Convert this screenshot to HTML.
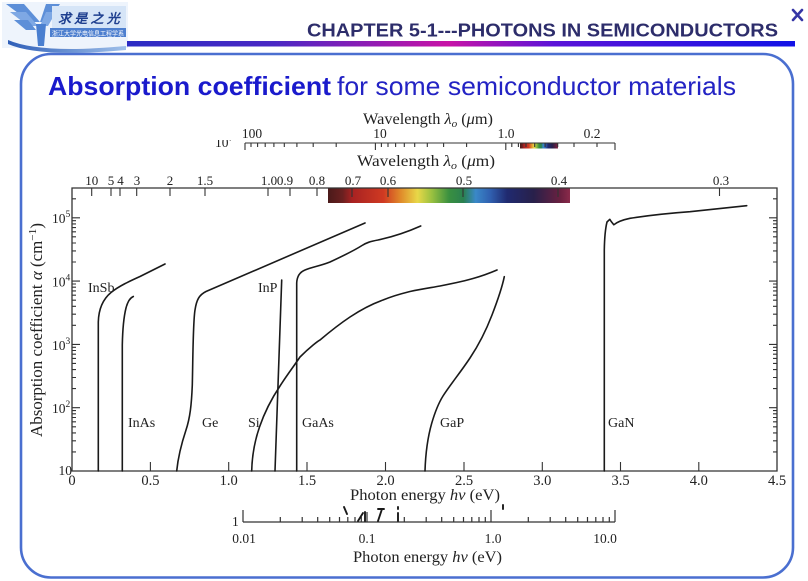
<!DOCTYPE html>
<html>
<head>
<meta charset="utf-8">
<style>
html,body{margin:0;padding:0;background:#fff;}
svg{display:block;}
.serif{font-family:"Liberation Serif","DejaVu Serif",serif;}
.sans{font-family:"Liberation Sans","DejaVu Sans",sans-serif;}
</style>
</head>
<body>
<svg width="808" height="581" viewBox="0 0 808 581" xmlns="http://www.w3.org/2000/svg">
<defs>
  <linearGradient id="hdr" gradientUnits="userSpaceOnUse" x1="127" y1="0" x2="795" y2="0">
    <stop offset="0" stop-color="#2c2cc4"/>
    <stop offset="0.22" stop-color="#4a28c4"/>
    <stop offset="0.48" stop-color="#c812a6"/>
    <stop offset="0.64" stop-color="#5a12d8"/>
    <stop offset="1" stop-color="#1212e6"/>
  </linearGradient>
  <linearGradient id="spec" x1="0" y1="0" x2="1" y2="0">
    <stop offset="0" stop-color="#4a1a1a"/>
    <stop offset="0.06" stop-color="#6a2020"/>
    <stop offset="0.10" stop-color="#a82222"/>
    <stop offset="0.23" stop-color="#d03a22"/>
    <stop offset="0.30" stop-color="#e08a2a"/>
    <stop offset="0.37" stop-color="#e8d848"/>
    <stop offset="0.43" stop-color="#98c040"/>
    <stop offset="0.50" stop-color="#3a9040"/>
    <stop offset="0.56" stop-color="#2a8050"/>
    <stop offset="0.61" stop-color="#3a88c8"/>
    <stop offset="0.67" stop-color="#3060b0"/>
    <stop offset="0.74" stop-color="#202a70"/>
    <stop offset="0.85" stop-color="#28204a"/>
    <stop offset="0.96" stop-color="#6a2040"/>
    <stop offset="1" stop-color="#8a2a4a"/>
  </linearGradient>
  <linearGradient id="swoosh" x1="0" y1="0" x2="1" y2="0">
    <stop offset="0" stop-color="#2f5fb8"/>
    <stop offset="1" stop-color="#9fc0ea"/>
  </linearGradient>
  <clipPath id="c7"><rect x="200" y="140" width="40" height="12"/></clipPath>
  <g id="yt">
    <path d="M72 407.7h8M72 344.4h8M72 281.1h8M72 217.8h8
      M72 451.9h4M72 440.8h4M72 432.9h4M72 426.8h4M72 421.8h4M72 417.5h4M72 413.8h4M72 410.6h4
      M72 388.6h4M72 377.5h4M72 369.6h4M72 363.4h4M72 358.4h4M72 354.2h4M72 350.5h4M72 347.3h4
      M72 325.3h4M72 314.2h4M72 306.3h4M72 300.2h4M72 295.2h4M72 290.9h4M72 287.2h4M72 284.0h4
      M72 262.0h4M72 250.9h4M72 243.0h4M72 236.8h4M72 231.8h4M72 227.6h4M72 223.9h4M72 220.7h4
      M72 198.8h4" stroke="#333" stroke-width="1.1" fill="none"/>
  </g>
</defs>

<rect width="808" height="581" fill="#fff"/>

<!-- Logo -->
<g>
  <rect x="2" y="2" width="126" height="46" fill="#eef4fc"/>
  <path d="M6 4 L24 4 L40 22 L30 22 Z" fill="#5d8fd8"/>
  <path d="M10 12 L26 12 L38 26 L28 26 Z" fill="#7ea8e4"/>
  <path d="M14 20 L28 20 L36 30 L26 30 Z" fill="#5d8fd8"/>
  <path d="M60 4 L46 4 L40 22 L48 22 Z" fill="#5d8fd8"/>
  <path d="M56 12 L46 12 L40 26 L48 26 Z" fill="#7ea8e4"/>
  <path d="M36 24 L46 24 L44 46 L38 46 Z" fill="#4a7fd0"/>
  <rect x="52" y="6" width="74" height="22" fill="#d6e5f7"/>
  <text x="58" y="23" class="serif" font-size="13" font-style="italic" font-weight="bold" fill="#1e3f8f" font-family="'Liberation Serif','Noto Serif CJK SC',serif">求 是 之 光</text>
  <rect x="50" y="28" width="76" height="9" fill="#4d7fcf"/>
  <text x="52" y="35.5" font-size="6.5" fill="#ffffff" font-family="'Liberation Sans','Noto Sans CJK SC',sans-serif" textLength="72" lengthAdjust="spacingAndGlyphs">浙江大学光电信息工程学系</text>
  <path d="M8 40 Q40 54 126 46 L126 50 Q40 58 8 44 Z" fill="url(#swoosh)"/>
</g>

<!-- Header -->
<text x="307" y="36.7" class="sans" font-size="18.5" font-weight="bold" fill="#2d2d6b" textLength="471" lengthAdjust="spacingAndGlyphs">CHAPTER 5-1---PHOTONS IN SEMICONDUCTORS</text>
<path d="M793 10 L802 20 M802 10 L793 20" stroke="#3535a5" stroke-width="2.6" stroke-linecap="round"/>
<rect x="127" y="41" width="668" height="5.5" fill="url(#hdr)"/>

<!-- Rounded frame -->
<rect x="21" y="54" width="772" height="523.5" rx="30" ry="30" fill="none" stroke="#4a6fd0" stroke-width="2.6"/>

<!-- Title -->
<text x="48" y="95" class="sans" font-size="26" font-weight="bold" fill="#1a1acc" textLength="283" lengthAdjust="spacingAndGlyphs">Absorption coefficient</text>
<text x="337" y="95" class="sans" font-size="26" fill="#2323c4" textLength="399" lengthAdjust="spacingAndGlyphs">for some semiconductor materials</text>

<!-- Top mini axis (wavelength) -->
<g class="serif" fill="#222">
  <text x="363" y="124" font-size="16" textLength="130" lengthAdjust="spacingAndGlyphs">Wavelength <tspan font-style="italic">λ</tspan><tspan font-style="italic" font-size="11" dy="3">o</tspan><tspan dy="-3"> (</tspan><tspan font-style="italic">μ</tspan>m)</text>
  <text x="252" y="138" font-size="13.5" text-anchor="middle">100</text>
  <text x="380" y="138" font-size="13.5" text-anchor="middle">10</text>
  <text x="506" y="138" font-size="13.5" text-anchor="middle">1.0</text>
  <text x="592" y="138" font-size="13.5" text-anchor="middle">0.2</text>
  <g clip-path="url(#c7)"><text x="215" y="147" font-size="13.5">10<tspan font-size="9.5" dy="-6">7</tspan></text></g>
</g>
<rect x="520" y="143" width="38" height="5.5" fill="url(#spec)"/>
<path d="M245 143H615
  M245 143v7M375.4 143v7M505.8 143v7M615 143v7
  M251 143v4M257.6 143v4M265.2 143v4M273.9 143v4M284.3 143v4M296.9 143v4M313.2 143v4M336.2 143v4
  M381.4 143v4M388 143v4M395.6 143v4M404.3 143v4M414.7 143v4M427.3 143v4M443.6 143v4M466.6 143v4
  M511.8 143v4M518.4 143v4M526 143v4M534.7 143v4M545.1 143v4M557.7 143v4M574 143v4M597 143v4" stroke="#333" stroke-width="1.1" fill="none"/>

<!-- Main top wavelength label -->
<g class="serif" fill="#222">
  <text x="357" y="166" font-size="16" textLength="138" lengthAdjust="spacingAndGlyphs">Wavelength <tspan font-style="italic">λ</tspan><tspan font-style="italic" font-size="11" dy="3">o</tspan><tspan dy="-3"> (</tspan><tspan font-style="italic">μ</tspan>m)</text>
  <g font-size="13" text-anchor="middle">
    <text x="91.7" y="185">10</text>
    <text x="111" y="185">5</text>
    <text x="120.5" y="185">4</text>
    <text x="137" y="185">3</text>
    <text x="170" y="185">2</text>
    <text x="205" y="185">1.5</text>
    <text x="269" y="185">1.0</text>
    <text x="285" y="185">0.9</text>
    <text x="317" y="185">0.8</text>
    <text x="353" y="185">0.7</text>
    <text x="388" y="185">0.6</text>
    <text x="464" y="185">0.5</text>
    <text x="559" y="185">0.4</text>
    <text x="721" y="185">0.3</text>
  </g>
</g>

<!-- Spectrum bar -->
<rect x="328" y="188" width="242" height="15" fill="url(#spec)"/>

<!-- Plot frame -->
<path d="M72 188V471H777V188Z" stroke="#333" stroke-width="1.3" fill="none"/>

<!-- Y ticks left and right -->
<use href="#yt"/>
<use href="#yt" transform="matrix(-1 0 0 1 849 0)"/>

<!-- Bottom ticks -->
<path d="M150.4 471v-9M228.7 471v-9M307 471v-9M385.5 471v-9M464 471v-9M542.3 471v-9M620.5 471v-9M698.8 471v-9" stroke="#333" stroke-width="1.1" fill="none"/>

<!-- Top wavelength ticks -->
<path d="M91.7 188v8M111 188v8M120 188v8M136.7 188v8M170 188v8M205 188v8M268 188v8M290 188v8M317 188v8M352 188v9M388 188v9M463 188v9M558 188v9M719.5 188v8" stroke="#333" stroke-width="1.1" fill="none"/>

<!-- Y tick labels -->
<g class="serif" fill="#222" font-size="13.5">
  <text x="52" y="223">10<tspan font-size="9.5" dy="-6">5</tspan></text>
  <text x="52" y="286.5">10<tspan font-size="9.5" dy="-6">4</tspan></text>
  <text x="52" y="350">10<tspan font-size="9.5" dy="-6">3</tspan></text>
  <text x="52" y="413">10<tspan font-size="9.5" dy="-6">2</tspan></text>
  <text x="72" y="475" text-anchor="end">10</text>
</g>

<!-- X tick labels -->
<g class="serif" fill="#222" font-size="14.5" text-anchor="middle">
  <text x="72" y="485">0</text>
  <text x="150.4" y="485">0.5</text>
  <text x="228.7" y="485">1.0</text>
  <text x="307" y="485">1.5</text>
  <text x="385.5" y="485">2.0</text>
  <text x="464" y="485">2.5</text>
  <text x="542.3" y="485">3.0</text>
  <text x="620.5" y="485">3.5</text>
  <text x="698.8" y="485">4.0</text>
  <text x="777" y="485">4.5</text>
</g>
<text x="350" y="500" class="serif" font-size="16" fill="#222" textLength="150" lengthAdjust="spacingAndGlyphs">Photon energy <tspan font-style="italic">hν</tspan> (eV)</text>

<!-- Y axis label -->
<text transform="translate(42,330) rotate(-90)" text-anchor="middle" class="serif" font-size="16.5" fill="#222" textLength="214" lengthAdjust="spacingAndGlyphs">Absorption coefficient <tspan font-style="italic">α</tspan> (cm<tspan font-size="11" dy="-6">−1</tspan><tspan dy="6">)</tspan></text>

<!-- Curves -->
<g stroke="#1a1a1a" stroke-width="1.6" fill="none" stroke-linejoin="round" stroke-linecap="round">
  <!-- InSb -->
  <path d="M98.3 471 V322 C98.6 310 102 300 111 292.5 C119 286 130 281 140 276.5 C148 272.5 157 268 165 264"/>
  <!-- InAs -->
  <path d="M122.3 471 V345 C122.6 330 123.5 318 126 308 C127.5 302 130 298 133.3 296.5"/>
  <!-- Ge -->
  <path d="M176.7 471 C178 458 181 445 186 430 C190 418 191.5 405 192.3 385 C193 355 193 322 195 310 C196.5 300 199 295 206 291.5 L365 223"/>
  <!-- InP -->
  <path d="M275 471 L281.7 280"/>
  <!-- GaAs -->
  <path d="M296.7 471 V283 C297 276 300 272 305 270 C312 267 320 266 330 262 C345 255 355 250 362 245.5 C367 242.5 370 241.5 378 240 C392 237 405 233 420.7 226"/>
  <!-- Si -->
  <path d="M251.7 471 C252 458 254 443 259.5 427 C265 411 272 398 280 386 C287 375 294 366 300 357 C310 347 318 341 320 340 C333 329 341 323 350 317 C362 309 372 304 383 300 C395 295 402 293.5 410 291.5 C422 289 432 287.5 440 286 C455 283 465 281 473 278.5 C482 276 490 273 497 270"/>
  <!-- GaP -->
  <path d="M425 471 C425.5 455 427.5 438 431.7 423.3 C435 412 438 404 443 396 C450 385 460 373 470 358 C480 343 487 328 492 315 C497 302 502 288 504.3 276.7"/>
  <!-- GaN -->
  <path d="M604.3 471 V250 C604.5 238 605.5 228 607 222 L609.8 219.3 L611.2 221.5 L613.8 224.8 C617 222 622 220 630 218.3 C645 216 665 213.5 690 211.7 L746.7 205.7"/>
</g>

<!-- Curve labels -->
<g class="serif" fill="#222" font-size="14">
  <text x="88" y="292">InSb</text>
  <text x="128" y="427">InAs</text>
  <text x="202" y="427">Ge</text>
  <text x="248" y="427">Si</text>
  <text x="258" y="292">InP</text>
  <text x="302" y="427">GaAs</text>
  <text x="440" y="427">GaP</text>
  <text x="608" y="427">GaN</text>
</g>

<!-- Bottom mini axis (energy log) -->
<path d="M243 522H615
  M243 522v-12M367 522v-10M491 522v-12M615 522v-12
  M280.3 522v-5M302.2 522v-5M317.7 522v-5M329.7 522v-5M339.5 522v-5M347.8 522v-5M355 522v-5M361.3 522v-5
  M404.3 522v-5M426.2 522v-5M441.7 522v-5M453.7 522v-5M463.5 522v-5M471.8 522v-5M479 522v-5M485.3 522v-5
  M528.3 522v-5M550.2 522v-5M565.7 522v-5M577.7 522v-5M587.5 522v-5M595.8 522v-5M603 522v-5M609.3 522v-5" stroke="#333" stroke-width="1.2" fill="none"/>
<!-- artifacts -->
<g stroke="#1a1a1a" stroke-width="1.9" fill="none" stroke-linecap="round">
  <path d="M344 507 L347 514"/>
  <path d="M358 521 L363 513 M365 512 V521"/>
  <path d="M378 521 L382 509 M378 509 H384"/>
  <path d="M398 513 V521 M398 507 V509"/>
  <path d="M503 505 V509"/>
</g>
<g class="serif" fill="#222" font-size="13.5">
  <text x="232" y="526">1</text>
  <text x="244" y="543" text-anchor="middle">0.01</text>
  <text x="367" y="543" text-anchor="middle">0.1</text>
  <text x="493" y="543" text-anchor="middle">1.0</text>
  <text x="605" y="543" text-anchor="middle">10.0</text>
</g>
<text x="353" y="562" class="serif" font-size="16" fill="#222" textLength="149" lengthAdjust="spacingAndGlyphs">Photon energy <tspan font-style="italic">hν</tspan> (eV)</text>
</svg>
</body>
</html>
